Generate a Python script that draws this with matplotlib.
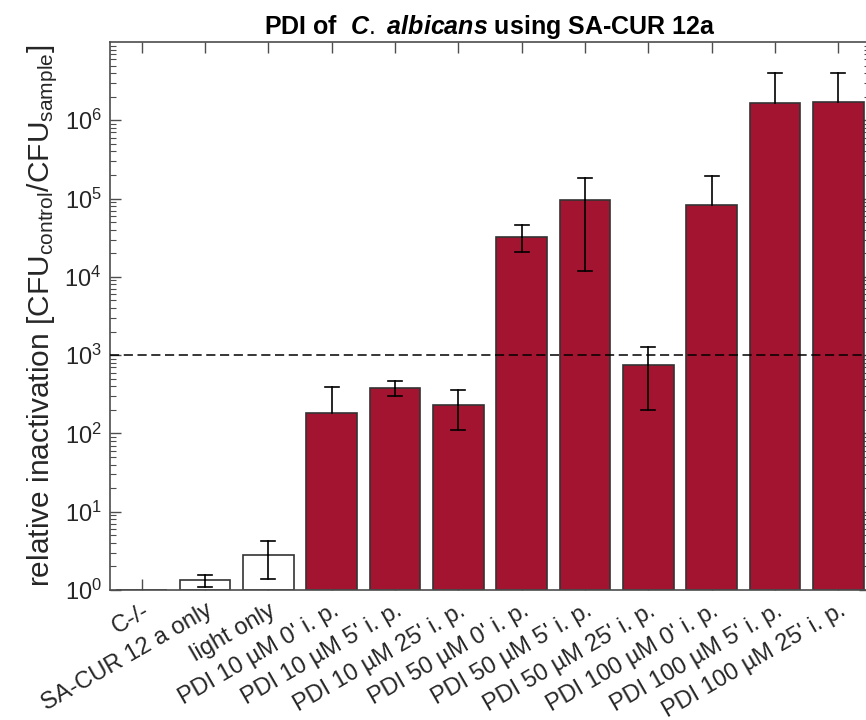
import numpy as np
import matplotlib.pyplot as plt
import matplotlib.transforms as mtransforms
from matplotlib.ticker import LogLocator, NullFormatter

plt.rcParams['font.family'] = ['Liberation Sans', 'DejaVu Sans']
plt.rcParams['mathtext.fontset'] = 'custom'
plt.rcParams['mathtext.rm'] = 'Liberation Sans'
plt.rcParams['mathtext.it'] = 'Liberation Sans:italic:bold'
plt.rcParams['mathtext.bf'] = 'Liberation Sans:bold'
plt.rcParams['mathtext.default'] = 'regular'

# relative inactivation per condition (CFU control / CFU sample)
groups = ['C-/-', 'SA-CUR 12 a only', 'light only',
          "PDI 10 µM 0' i. p.", "PDI 10 µM 5' i. p.", "PDI 10 µM 25' i. p.",
          "PDI 50 µM 0' i. p.", "PDI 50 µM 5' i. p.", "PDI 50 µM 25' i. p.",
          "PDI 100 µM 0' i. p.", "PDI 100 µM 5' i. p.", "PDI 100 µM 25' i. p."]
means = [1.0, 1.34, 2.8, 180, 377, 233, 32500, 95700, 748, 82600, 1.64e6, 1.72e6]
err_low = [1.0, 1.09, 1.38, 180, 298, 110, 20500, 11970, 199, 82600, 1.64e6, 1.72e6]
err_high = [1.0, 1.55, 4.2, 388, 467, 358, 45900, 181000, 1270, 195000, 3.97e6, 3.97e6]
is_pdi = [False, False, False] + [True] * 9
threshold = 1e3

pdi_red = '#A2142F'
axis_gray = '#4d4d4d'
text_col = '#262626'

fig = plt.figure(figsize=(8.66, 7.2), dpi=100)
ax = fig.add_axes([110 / 866, 130 / 720, 760 / 866, 548 / 720])

x = np.arange(1, len(groups) + 1)
colors = [pdi_red if p else 'white' for p in is_pdi]
ax.bar(x, np.array(means) - 1, bottom=1, width=0.8, color=colors,
       edgecolor='#333333', linewidth=1.2, zorder=2)

# error bars, only the sides that actually have a spread
cap = 0.11
for xi, m, lo, hi in zip(x, means, err_low, err_high):
    for end in (lo, hi):
        if end != m:
            ax.plot([xi, xi], [m, end], color='black', lw=1.2, zorder=3)
            ax.plot([xi - cap, xi + cap], [end, end], color='black', lw=1.2, zorder=3)

ax.axhline(threshold, color='black', linestyle=(0, (6, 3)), linewidth=1.1, zorder=4)

ax.set_yscale('log')
ax.set_ylim(1, 1e7)
ax.set_xlim(0.5, 12.5)
ax.set_yticks([1e0, 1e1, 1e2, 1e3, 1e4, 1e5, 1e6])
ax.yaxis.set_minor_locator(LogLocator(base=10, subs=np.arange(2, 10)))
ax.yaxis.set_minor_formatter(NullFormatter())
ax.set_xticks(x)
ax.set_xticklabels(groups, rotation=30, ha='right', rotation_mode='anchor',
                   fontsize=17, color=text_col)
shift = mtransforms.ScaledTranslation(8 / 100, 0, fig.dpi_scale_trans)
for lbl in ax.get_xticklabels():
    lbl.set_transform(lbl.get_transform() + shift)
ax.tick_params(axis='both', which='major', direction='in', length=8, width=1,
               color=axis_gray, top=True, right=True)
ax.tick_params(axis='y', which='minor', direction='in', length=4, width=0.8,
               color=axis_gray, right=True)
ax.tick_params(axis='y', labelsize=17, labelcolor=text_col, pad=6)
ax.tick_params(axis='x', pad=7)
for s in ax.spines.values():
    s.set_color(axis_gray)
    s.set_linewidth(1.2)

ax.set_ylabel(r'relative inactivation [CFU$_{\mathrm{control}}$/CFU$_{\mathrm{sample}}$]',
              fontsize=21.5, color=text_col, labelpad=3)
ax.set_title(r'PDI of  $\mathit{C.\ albicans}$ using SA-CUR 12a',
             fontsize=18, fontweight='bold', color='black', pad=6)

fig.savefig('out.png', dpi=100)
